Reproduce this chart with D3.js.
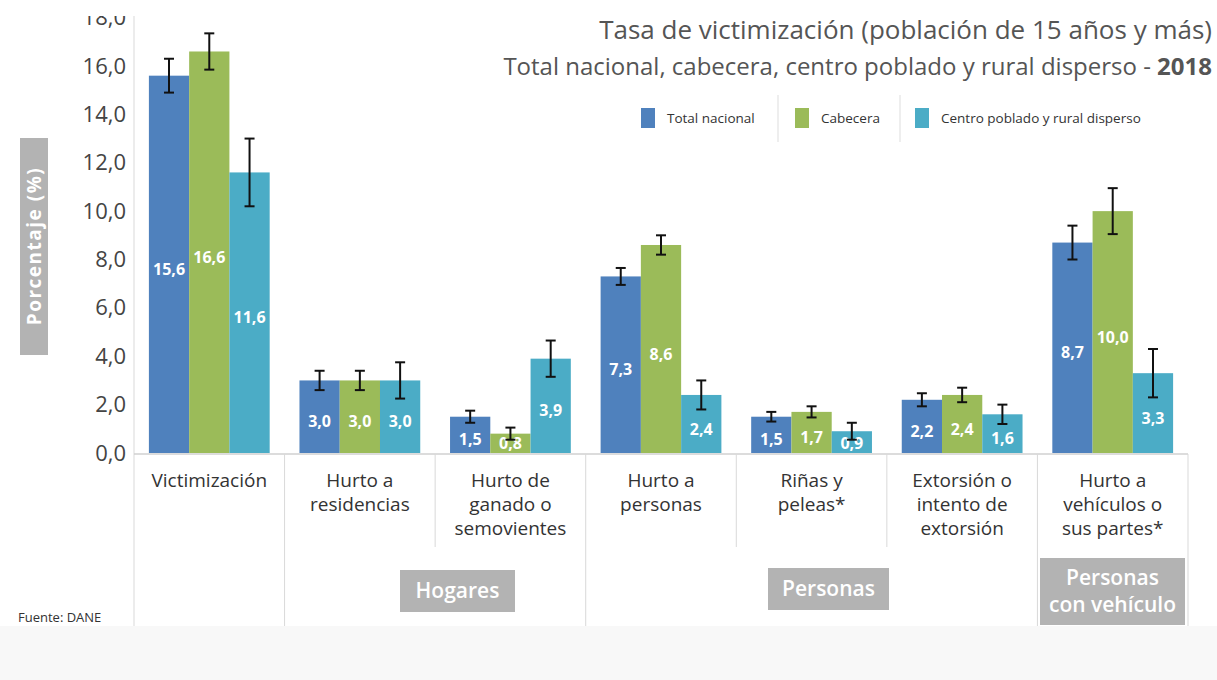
<!DOCTYPE html>
<html>
<head>
<meta charset="utf-8">
<script src="https://cdn.jsdelivr.net/npm/d3@7"></script>
<style>
  body { margin: 0; background: #fff; }
  svg text { font-family: "Open Sans", sans-serif; }
</style>
</head>
<body>
<div id="chart"></div>
<script>
var svgWidth = 1217;
var svgHeight = 680;

// data
var categories = [
  ["Victimización"],
  ["Hurto a", "residencias"],
  ["Hurto de", "ganado o", "semovientes"],
  ["Hurto a", "personas"],
  ["Riñas y", "peleas*"],
  ["Extorsión o", "intento de", "extorsión"],
  ["Hurto a", "vehículos o", "sus partes*"]
];
var seriesNames = ["Total nacional", "Cabecera", "Centro poblado y rural disperso"];
var seriesColors = ["#4f81bd", "#9bbb59", "#4bacc6"];
var totalNacional = [15.6, 3.0, 1.5, 7.3, 1.5, 2.2, 8.7];
var cabecera = [16.6, 3.0, 0.8, 8.6, 1.7, 2.4, 10.0];
var centroPoblado = [11.6, 3.0, 3.9, 2.4, 0.9, 1.6, 3.3];
// error bar half widths
var errTotal = [0.7, 0.4, 0.25, 0.35, 0.2, 0.27, 0.7];
var errCabecera = [0.75, 0.4, 0.25, 0.4, 0.23, 0.3, 0.95];
var errCentro = [1.4, 0.75, 0.75, 0.6, 0.35, 0.4, 1.0];
var yTicks = [0, 2, 4, 6, 8, 10, 12, 14, 16, 18];
var groups = [
  { name: ["Hogares"], from: 1, to: 2 },
  { name: ["Personas"], from: 3, to: 5 },
  { name: ["Personas", "con vehículo"], from: 6, to: 6 }
];

var values = [totalNacional, cabecera, centroPoblado];
var errors = [errTotal, errCabecera, errCentro];

var margin = { left: 134, right: 29, top: 18 };
var baseline = 453;
var plotRight = svgWidth - margin.right;

var svg = d3.select("#chart")
  .append("svg")
  .attr("width", svgWidth)
  .attr("height", svgHeight);

// light bottom strip
svg.append("rect")
  .attr("x", 0).attr("y", 626)
  .attr("width", svgWidth).attr("height", svgHeight - 626)
  .attr("fill", "#f8f8f8");

var x0 = d3.scaleBand()
  .domain(d3.range(categories.length))
  .range([margin.left, plotRight])
  .paddingInner(0);

var x1 = d3.scaleBand()
  .domain(d3.range(seriesNames.length))
  .range([0, x0.bandwidth()])
  .paddingInner(0)
  .paddingOuter(0.37);

var y = d3.scaleLinear()
  .domain([0, 16])
  .range([baseline, 66]);

// y axis labels
var yAxis = d3.axisLeft(y)
  .tickValues(yTicks)
  .tickSize(0)
  .tickPadding(8)
  .tickFormat(d => d3.format(".1f")(d).replace(".", ","));

var yAxisG = svg.append("g")
  .attr("transform", `translate(${margin.left}, 0)`)
  .call(yAxis);
yAxisG.select(".domain").remove();
yAxisG.selectAll("text")
  .attr("font-size", 22)
  .attr("fill", "#444")
  .attr("font-family", "Open Sans, sans-serif");

// left border line
svg.append("line")
  .attr("x1", margin.left).attr("x2", margin.left)
  .attr("y1", 14).attr("y2", 626)
  .attr("stroke", "#d9d9d9");

// baseline
svg.append("line")
  .attr("x1", margin.left).attr("x2", plotRight)
  .attr("y1", baseline + 1).attr("y2", baseline + 1)
  .attr("stroke", "#d0d0d0").attr("stroke-width", 1.5);

// category separators (long at group edges)
var groupEdges = [0, 1, 3, 6, 7];
d3.range(1, categories.length + 1).forEach(i => {
  var xx = margin.left + i * x0.step();
  var long = groupEdges.indexOf(i) >= 0;
  svg.append("line")
    .attr("x1", xx).attr("x2", xx)
    .attr("y1", baseline + 1).attr("y2", long ? 626 : 547)
    .attr("stroke", "#d9d9d9");
});

// bars
var seriesG = svg.selectAll(".series")
  .data(values)
  .enter()
  .append("g")
  .attr("class", "series");

seriesG.selectAll("rect")
  .data((d, s) => d.map((v, i) => ({ v: v, i: i, s: s })))
  .enter()
  .append("rect")
  .attr("x", d => x0(d.i) + x1(d.s))
  .attr("y", d => y(d.v))
  .attr("width", x1.bandwidth())
  .attr("height", d => baseline - y(d.v))
  .attr("fill", d => seriesColors[d.s]);

// value labels
seriesG.selectAll("text.val")
  .data((d, s) => d.map((v, i) => ({ v: v, i: i, s: s })))
  .enter()
  .append("text")
  .attr("class", "val")
  .attr("x", d => x0(d.i) + x1(d.s) + x1.bandwidth() / 2)
  .attr("y", d => Math.min((y(d.v) + baseline) / 2 + 5, baseline - 10))
  .attr("dy", "0.35em")
  .attr("text-anchor", "middle")
  .attr("font-size", 16)
  .attr("font-weight", "bold")
  .attr("fill", "#fff")
  .text(d => d3.format(".1f")(d.v).replace(".", ","));

// error bars
seriesG.each(function(d, s) {
  var g = d3.select(this);
  d.forEach((v, i) => {
    var cx = x0(i) + x1(s) + x1.bandwidth() / 2;
    var e = errors[s][i];
    var top = y(v + e), bot = y(v - e);
    g.append("line").attr("x1", cx).attr("x2", cx).attr("y1", top).attr("y2", bot)
      .attr("stroke", "#111").attr("stroke-width", 2);
    [top, bot].forEach(yy => {
      g.append("line").attr("x1", cx - 5).attr("x2", cx + 5).attr("y1", yy).attr("y2", yy)
        .attr("stroke", "#111").attr("stroke-width", 2);
    });
  });
});

// category labels
categories.forEach((lines, i) => {
  var t = svg.append("text")
    .attr("x", x0(i) + x0.bandwidth() / 2)
    .attr("y", 487)
    .attr("text-anchor", "middle")
    .attr("font-size", 19)
    .attr("fill", "#333");
  lines.forEach((l, k) => {
    t.append("tspan")
      .attr("x", x0(i) + x0.bandwidth() / 2)
      .attr("dy", k === 0 ? 0 : 24)
      .text(l);
  });
});

// group boxes
var boxes = [
  { x: 400, y: 570, w: 115, h: 42 },
  { x: 768, y: 568, w: 121, h: 42 },
  { x: 1040, y: 558, w: 145, h: 67 }
];
groups.forEach((gp, k) => {
  var b = boxes[k];
  svg.append("rect")
    .attr("x", b.x).attr("y", b.y).attr("width", b.w).attr("height", b.h)
    .attr("fill", "#b3b3b3");
  var t = svg.append("text")
    .attr("text-anchor", "middle")
    .attr("font-size", 21)
    .attr("font-weight", 600)
    .attr("fill", "#fff");
  var n = gp.name.length;
  gp.name.forEach((l, j) => {
    t.append("tspan")
      .attr("x", b.x + b.w / 2)
      .attr("y", b.y + b.h / 2 + (j - (n - 1) / 2) * 27 + 7)
      .text(l);
  });
});

// y axis title
svg.append("rect")
  .attr("x", 20).attr("y", 138).attr("width", 28).attr("height", 217)
  .attr("fill", "#b3b3b3");
svg.append("text")
  .attr("transform", "translate(41, 246) rotate(-90)")
  .attr("text-anchor", "middle")
  .attr("font-size", 19)
  .attr("font-weight", "bold")
  .attr("letter-spacing", 1.5)
  .attr("fill", "#fff")
  .text("Porcentaje (%)");

// cover the top edge, as in the cropped picture
svg.append("rect")
  .attr("x", 0).attr("y", 0).attr("width", 560).attr("height", 16)
  .attr("fill", "#fff");

// title
svg.append("text")
  .attr("x", 1212).attr("y", 39)
  .attr("text-anchor", "end")
  .attr("font-size", 26)
  .attr("fill", "#555")
  .text("Tasa de victimización (población de 15 años y más)");
var t2 = svg.append("text")
  .attr("x", 1212).attr("y", 75)
  .attr("text-anchor", "end")
  .attr("font-size", 24)
  .attr("fill", "#555");
t2.append("tspan").text("Total nacional, cabecera, centro poblado y rural disperso - ");
t2.append("tspan").attr("font-weight", "bold").text("2018");

// legend
var legendX = [641, 795, 915];
var legendSep = [778, 900];
legendSep.forEach(xx => {
  svg.append("line")
    .attr("x1", xx).attr("x2", xx).attr("y1", 95).attr("y2", 142)
    .attr("stroke", "#ddd");
});
seriesNames.forEach((name, s) => {
  svg.append("rect")
    .attr("x", legendX[s]).attr("y", 108).attr("width", 14).attr("height", 20)
    .attr("fill", seriesColors[s]);
  svg.append("text")
    .attr("x", legendX[s] + 26).attr("y", 118)
    .attr("dy", "0.35em")
    .attr("font-size", 13.5)
    .attr("fill", "#333")
    .text(name);
});

// source
svg.append("text")
  .attr("x", 18).attr("y", 622)
  .attr("font-size", 13)
  .attr("fill", "#333")
  .text("Fuente: DANE");
</script>
</body>
</html>
